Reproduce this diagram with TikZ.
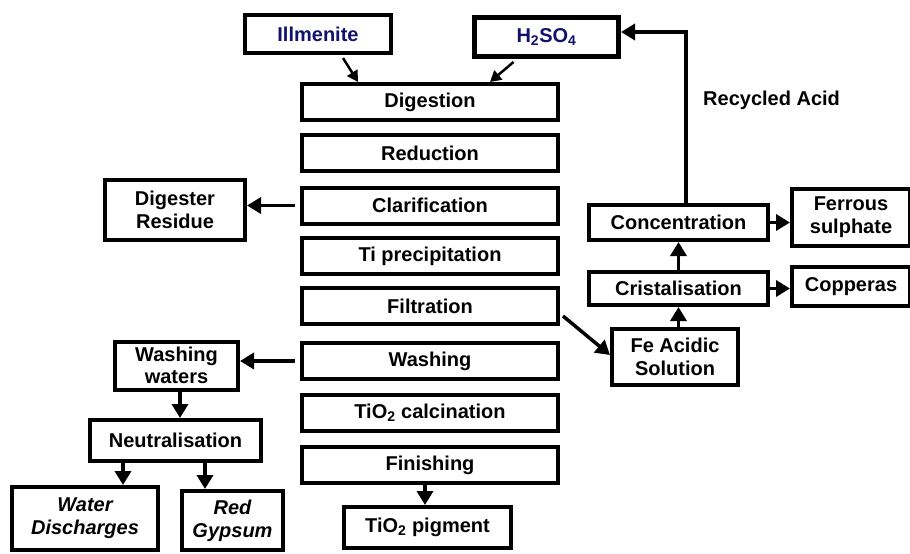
\documentclass[tikz,border=0pt]{standalone}
\usepackage{fontspec}
\setmainfont{Liberation Sans}
\usetikzlibrary{arrows.meta,calc}
\definecolor{navytxt}{RGB}{18,18,110}
\begin{document}
\begin{tikzpicture}[x=1pt,y=-1pt,
  box/.style={draw=black,line width=4pt,fill=white,inner sep=0pt,align=center,
    font=\fontsize{20}{23}\selectfont\bfseries},
  flow/.style={line width=3.5pt,-{Triangle[length=14pt,width=16pt]}},
  thin/.style={line width=2.5pt,-{Triangle[length=11pt,width=12pt]}}]
\fill[white] (0,0) rectangle (910,554);
\useasboundingbox (0,0) rectangle (910,554);
% top inputs
\node[box,minimum width=146pt,minimum height=38pt,text=navytxt] (ill) at (318,34) {Illmenite};
\node[box,line width=5pt,minimum width=144pt,minimum height=39pt,text=navytxt] (h2) at (546.5,37) {H\textsubscript{2}SO\textsubscript{4}};
% central column
\foreach \n/\t/\y in {dig/Digestion/102, red/Reduction/153, cla/Clarification/205.5,
  tip/Ti precipitation/256, fil/Filtration/306, was/Washing/361,
  cal/TiO\textsubscript{2} calcination/413, fin/Finishing/465}
  \node[box,minimum width=256pt,minimum height=36pt] (\n) at (430,\y) {\t};
% left side
\node[box,minimum width=140pt,minimum height=60pt] (res) at (175,210) {Digester\\Residue};
\node[box,minimum width=123pt,minimum height=48pt,font=\fontsize{20}{22}\selectfont\bfseries] (ww) at (176.5,365.5) {Washing\\waters};
\node[box,minimum width=171pt,minimum height=41pt] (neu) at (175.5,440.5) {Neutralisation};
\node[box,minimum width=146pt,minimum height=63pt,font=\fontsize{20}{23}\selectfont\bfseries\itshape] (wd) at (85,518.5) {Water\\Discharges};
\node[box,minimum width=101pt,minimum height=59pt,font=\fontsize{20}{23}\selectfont\bfseries\itshape] (rg) at (232.5,520.5) {Red\\Gypsum};
\node[box,minimum width=167pt,minimum height=41pt] (pig) at (427.5,527.5) {TiO\textsubscript{2} pigment};
% right side
\node[box,minimum width=179pt,minimum height=35pt] (con) at (678.5,222.5) {Concentration};
\node[box,minimum width=118pt,minimum height=57pt] (fer) at (851,217.5) {Ferrous\\sulphate};
\node[box,minimum width=179pt,minimum height=33pt] (cri) at (678.5,288.5) {Cristalisation};
\node[box,minimum width=118pt,minimum height=39pt] (cop) at (851,286.5) {Copperas};
\node[box,minimum width=126pt,minimum height=56pt] (fea) at (675,357) {Fe Acidic\\Solution};
\node[anchor=west,inner sep=0pt,font=\fontsize{20}{23}\selectfont\bfseries] (rec) at (703,100) {Recycled Acid};
% connector end points
\coordinate (wwa) at ($(ww.south)+(3.5,0)$);
\coordinate (wd1) at (123,0);
\coordinate (rg1) at (205,0);
\coordinate (pg1) at (425,0);
\coordinate (ra) at ($(con.north)+(7.5,0)$);
\coordinate (rb) at ($(h2.east)+(0,-5)$);
% connectors
\draw[thin] ($(ill.south)+(25,3)$) -- ($(dig.north)+(-72,0)$);
\draw[thin] ($(h2.south)+(-33,3)$) -- ($(dig.north)+(60,0)$);
\draw[flow] ($(cla.west)+(-5,0)$) -- (res.east |- cla.west);
\draw[flow] ($(was.west)+(-5,0)$) -- (ww.east |- was.west);
\draw[flow] (wwa) -- (wwa |- neu.north);
\draw[flow] (wd1 |- neu.south) -- (wd1 |- wd.north);
\draw[flow] (rg1 |- neu.south) -- (rg1 |- rg.north);
\draw[flow] (pg1 |- fin.south) -- (pg1 |- pig.north);
\draw[flow] ($(fil.east)+(3,10)$) -- ($(fea.west)+(0,-2)$);
\draw[flow] (fea.north -| cri.south) -- (cri.south);
\draw[flow] (cri.north) -- (con.south);
\draw[flow] (con.east) -- (fer.west |- con.east);
\draw[flow] (cri.east) -- (cop.west |- cri.east);
\draw[flow] (ra) |- (rb);
\end{tikzpicture}
\end{document}
